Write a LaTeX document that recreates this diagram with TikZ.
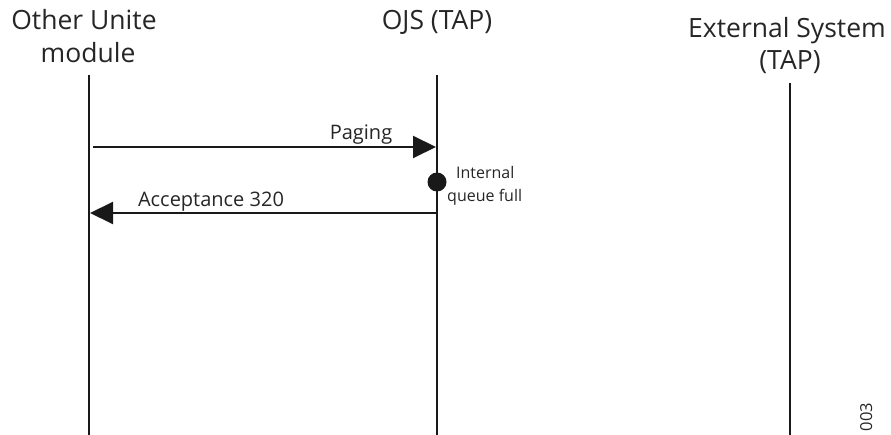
\documentclass[tikz,border=0pt]{standalone}
\usepackage{fontspec}
\setmainfont{Open Sans}
\usetikzlibrary{arrows.meta}
\begin{document}
\begin{tikzpicture}[x=1pt,y=-1pt,
  lifeline/.style={line width=2pt, color=black!90},
  msg/.style={line width=2pt, color=black!90, -{Triangle[length=23pt,width=22pt]}},
  title/.style={font=\fontsize{26.5}{32}\selectfont, color=black!85, align=center, anchor=base, inner sep=0pt},
  lbl/.style={font=\fontsize{20}{24}\selectfont, color=black!85, anchor=base, inner sep=0pt},
  small/.style={font=\fontsize{16}{22}\selectfont, color=black!85, anchor=base west, inner sep=0pt, align=left}]
\useasboundingbox (0,0) rectangle (891,435);
% titles
\node[title] (t1a) at (84,30) {Other Unite};
\node[title] (t1b) at (88,63) {module};
\node[title] (t2) at (437,30) {OJS (TAP)};
\node[title] (t3a) at (787,38) {External System};
\node[title] (t3b) at (790,70) {(TAP)};
% lifelines
\coordinate (l1top) at (89,75);
\coordinate (l1bot) at (89,435);
\coordinate (l2top) at (437,75);
\coordinate (l2bot) at (437,435);
\coordinate (l3top) at (790,83);
\coordinate (l3bot) at (790,435);
\draw[lifeline] (l1top) -- (l1bot);
\draw[lifeline] (l2top) -- (l2bot);
\draw[lifeline] (l3top) -- (l3bot);
% messages
\coordinate (p1) at (93,147);
\coordinate (p2) at (436,147);
\draw[msg] (p1) -- (p2);
\node[lbl] (paging) at (361,140) {Paging};
\coordinate (a1) at (436,213);
\coordinate (a2) at (90,213);
\draw[msg] (a1) -- (a2);
\node[lbl] (acc) at (211,207) {Acceptance 320};
% event dot
\node[circle, fill=black!90, minimum size=19pt, inner sep=0pt] (dot) at (437,182) {};
\node[small] (int) at (456,179) {Internal};
\node[small] (qf) at (447,202) {queue full};
% figure id
\node[font=\fontsize{16.5}{18}\selectfont, color=black!85, rotate=90, anchor=base, inner sep=0pt] (id) at (872,417) {003};
\end{tikzpicture}
\end{document}
